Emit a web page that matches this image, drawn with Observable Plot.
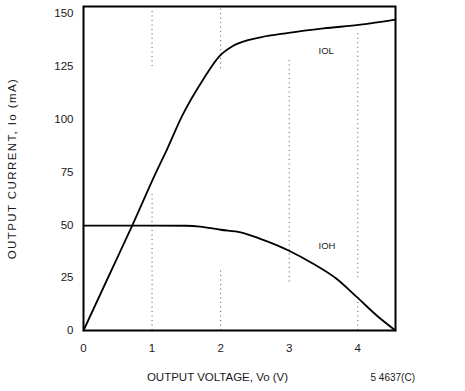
<!DOCTYPE html>
<html>
<head>
<meta charset="utf-8">
<script src="https://cdn.jsdelivr.net/npm/d3@7"></script>
<script src="https://cdn.jsdelivr.net/npm/@observablehq/plot@0.6"></script>
<style>
  html, body { margin: 0; padding: 0; background: #fff; }
</style>
</head>
<body>
<div id="chart"></div>
<script>
// Output voltage (V) and output current (mA)
const iolV = [0, 0.35, 0.71, 1.07, 1.21, 1.44, 1.75, 1.99, 2.19, 2.58, 2.99, 3.5, 4.04, 4.55];
const iolI = [0, 24.5, 49.7, 75.7, 85.2, 101.7, 119.1, 130.1, 134.9, 138.8, 140.9, 143, 144.8, 147.2];

const iohV = [0, 0.5, 1.0, 1.5, 1.7, 2.0, 2.29, 2.58, 2.99, 3.35, 3.69, 3.98, 4.28, 4.55];
const iohI = [49.7, 49.7, 49.7, 49.6, 49.2, 47.7, 46.5, 43.4, 37.9, 31.6, 24.5, 16, 7, 0];

const xTicks = [0, 1, 2, 3, 4];
const yTicks = [0, 25, 50, 75, 100, 125, 150];

// Dotted vertical guide segments (voltage, from current, to current)
const gridV  = [1, 1, 2, 2, 3, 4, 4];
const gridLo = [125, 0, 124, 0, 23, 0, 25];
const gridHi = [153.4, 66, 153.4, 29, 128, 15, 141];

const curveNames = ["IOL", "IOH"];
const curveLabelV = [3.54, 3.55];
const curveLabelI = [132.5, 40.2];

const xTitle = "OUTPUT VOLTAGE, Vo (V)";
const yTitle = "OUTPUT CURRENT, Io (mA)";
const figCode = "5 4637(C)";

const toRows = (xs, ys) => xs.map((x, i) => ({x, y: ys[i]}));
const iol = toRows(iolV, iolI);
const ioh = toRows(iohV, iohI);
const grid = gridV.map((x, i) => ({x, y1: gridLo[i], y2: gridHi[i]}));
const labels = curveNames.map((t, i) => ({t, x: curveLabelV[i], y: curveLabelI[i]}));

const chart = Plot.plot({
  width: 465,
  height: 391,
  marginLeft: 83,
  marginRight: 70,
  marginTop: 6,
  marginBottom: 61,
  style: {fontFamily: "'Liberation Sans', Arial, sans-serif", fontSize: "11.5px", color: "#1a1a1a", background: "#fff"},
  x: {domain: [0, 4.55], ticks: xTicks, tickSize: 0, tickPadding: 13, label: null, tickFormat: d => String(d)},
  y: {domain: [0, 153.4], ticks: yTicks, tickSize: 0, tickPadding: 10, label: null, tickFormat: d => String(d)},
  marks: [
    Plot.ruleX(grid, {x: "x", y1: "y1", y2: "y2", stroke: "#555", strokeWidth: 1, strokeDasharray: "1,3.5"}),
    Plot.line(iol, {x: "x", y: "y", curve: "monotone-x", stroke: "#000", strokeWidth: 1.8}),
    Plot.line(ioh, {x: "x", y: "y", curve: "monotone-x", stroke: "#000", strokeWidth: 1.8}),
    Plot.frame({stroke: "#000", strokeWidth: 2}),
    Plot.text(labels, {x: "x", y: "y", text: "t", fontSize: 9.5, fill: "#222"}),
    Plot.text([yTitle], {frameAnchor: "left", textAnchor: "middle", rotate: -90, dx: -71, dy: 0, fontSize: 11.5, fill: "#1a1a1a"}),
    Plot.text([xTitle], {frameAnchor: "bottom", textAnchor: "middle", dx: -22, dy: 50, fontSize: 11.5, fill: "#1a1a1a"}),
    Plot.text([figCode], {frameAnchor: "bottom-right", textAnchor: "start", dx: -25, dy: 50, fontSize: 10, fill: "#1a1a1a"})
  ]
});
d3.select(chart).selectAll("text")
  .filter(function() { return this.textContent === yTitle; })
  .style("letter-spacing", "1.4px");
document.getElementById("chart").appendChild(chart);
</script>
</body>
</html>
